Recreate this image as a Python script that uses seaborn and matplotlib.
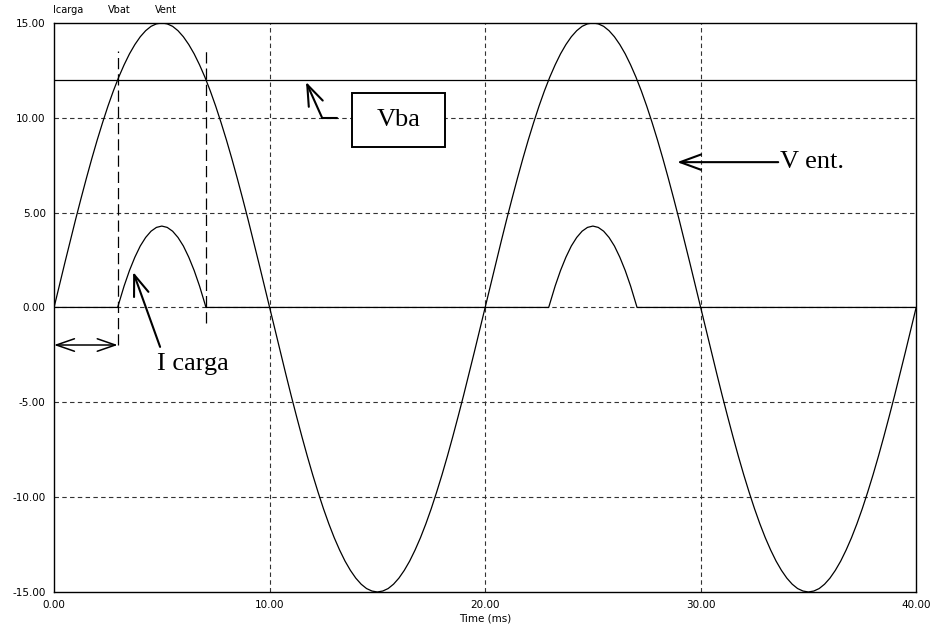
import numpy as np
import pandas as pd
import matplotlib.pyplot as plt
import seaborn as sns
from matplotlib.patches import Rectangle

# input voltage, sampled every 0.25 ms
time_ms = np.linspace(0, 40, 161)
v_ent = [0, 1.18, 2.35, 3.50, 4.64, 5.74, 6.81, 7.84, 8.82, 9.74,
         10.61, 11.41, 12.14, 12.79, 13.37, 13.86, 14.27, 14.59, 14.82, 14.95,
         15.0, 14.95, 14.82, 14.59, 14.27, 13.86, 13.37, 12.79, 12.14, 11.41,
         10.61, 9.74, 8.82, 7.84, 6.81, 5.74, 4.64, 3.50, 2.35, 1.18,
         0, -1.18, -2.35, -3.50, -4.64, -5.74, -6.81, -7.84, -8.82, -9.74,
         -10.61, -11.41, -12.14, -12.79, -13.37, -13.86, -14.27, -14.59, -14.82, -14.95,
         -15.0, -14.95, -14.82, -14.59, -14.27, -13.86, -13.37, -12.79, -12.14, -11.41,
         -10.61, -9.74, -8.82, -7.84, -6.81, -5.74, -4.64, -3.50, -2.35, -1.18,
         0, 1.18, 2.35, 3.50, 4.64, 5.74, 6.81, 7.84, 8.82, 9.74,
         10.61, 11.41, 12.14, 12.79, 13.37, 13.86, 14.27, 14.59, 14.82, 14.95,
         15.0, 14.95, 14.82, 14.59, 14.27, 13.86, 13.37, 12.79, 12.14, 11.41,
         10.61, 9.74, 8.82, 7.84, 6.81, 5.74, 4.64, 3.50, 2.35, 1.18,
         0, -1.18, -2.35, -3.50, -4.64, -5.74, -6.81, -7.84, -8.82, -9.74,
         -10.61, -11.41, -12.14, -12.79, -13.37, -13.86, -14.27, -14.59, -14.82, -14.95,
         -15.0, -14.95, -14.82, -14.59, -14.27, -13.86, -13.37, -12.79, -12.14, -11.41,
         -10.61, -9.74, -8.82, -7.84, -6.81, -5.74, -4.64, -3.50, -2.35, -1.18,
         0]

# load current
i_time = [0, 2.95, 3.0, 3.25, 3.5, 3.75, 4.0, 4.25, 4.5, 4.75, 5.0,
          5.25, 5.5, 5.75, 6.0, 6.25, 6.5, 6.75, 7.0, 7.05,
          22.95, 23.0, 23.25, 23.5, 23.75, 24.0, 24.25, 24.5, 24.75, 25.0,
          25.25, 25.5, 25.75, 26.0, 26.25, 26.5, 26.75, 27.0, 27.05, 40]
i_carga = [0, 0, 0.19, 1.13, 1.95, 2.65, 3.24, 3.69, 4.02, 4.22, 4.29,
           4.22, 4.02, 3.69, 3.24, 2.65, 1.95, 1.13, 0.19, 0,
           0, 0.19, 1.13, 1.95, 2.65, 3.24, 3.69, 4.02, 4.22, 4.29,
           4.22, 4.02, 3.69, 3.24, 2.65, 1.95, 1.13, 0.19, 0, 0]

# battery voltage
vbat_time = [0, 40]
v_bat = [12.0, 12.0]

x_ticks = [0, 10, 20, 30, 40]
y_ticks = [-15, -10, -5, 0, 5, 10, 15]

sns.set_style("white")
plt.rcParams['font.family'] = ['DejaVu Sans']
plt.rcParams['text.color'] = 'black'
plt.rcParams['axes.labelcolor'] = 'black'
plt.rcParams['xtick.color'] = 'black'
plt.rcParams['ytick.color'] = 'black'

fig = plt.figure(figsize=(9.32, 6.33), dpi=100)
ax = fig.add_axes([0.058, 0.0648, 0.925, 0.899])

# dashed grid, not on the frame
for x in x_ticks[1:-1]:
    ax.axvline(x, color='#333333', lw=0.8, ls=(0, (4, 3)), zorder=1)
for y in y_ticks[1:-1]:
    ax.axhline(y, color='#333333', lw=0.8, ls=(0, (4, 3)), zorder=1)

sns.lineplot(x=time_ms, y=v_ent, ax=ax, color='black', lw=0.9, zorder=3)
sns.lineplot(x=i_time, y=i_carga, ax=ax, color='black', lw=0.9, zorder=3)
sns.lineplot(x=vbat_time, y=v_bat, ax=ax, color='black', lw=0.9, zorder=3)

ax.set_xlim(0, 40)
ax.set_ylim(-15, 15)
ax.set_xticks(x_ticks)
ax.set_yticks(y_ticks)
ax.set_xticklabels([f'{v:.2f}' for v in x_ticks])
ax.set_yticklabels([f'{v:.2f}' for v in y_ticks])
ax.tick_params(length=0, labelsize=7.5, pad=6, colors='black')
ax.set_xlabel('Time (ms)', fontsize=7.5, labelpad=2, color='black')
ax.set_ylabel('')
for sp in ax.spines.values():
    sp.set_visible(True)
    sp.set_color('black')
    sp.set_linewidth(1.0)

# conduction limits
ax.plot([2.95, 2.95], [-2.0, 13.5], color='black', lw=0.9, ls=(0, (9, 4)), zorder=2)
ax.plot([7.05, 7.05], [-0.8, 13.5], color='black', lw=0.9, ls=(0, (9, 4)), zorder=2)

arrow = '->,head_length=1.5,head_width=0.55'
serif = ['Liberation Serif', 'DejaVu Serif']

ax.annotate('', xy=(0, -1.98), xytext=(2.95, -1.98),
            arrowprops=dict(arrowstyle='<->,head_length=1.3,head_width=0.45',
                            color='black', lw=1.1, mutation_scale=10,
                            shrinkA=0, shrinkB=0))

ax.annotate('', xy=(3.67, 1.87), xytext=(4.92, -2.08),
            arrowprops=dict(arrowstyle=arrow, color='black', lw=1.5,
                            mutation_scale=10, shrinkA=0, shrinkB=0))
ax.text(4.78, -3.29, 'I carga', fontsize=19, family=serif, va='baseline', ha='left',
        color='black')

# Vba box and bent arrow
ax.add_patch(Rectangle((13.83, 8.46), 4.32, 2.85, facecolor='white',
                       edgecolor='black', lw=1.4, zorder=4))
ax.text(15.99, 9.88, 'Vba', fontsize=19, family=serif, ha='center', va='center',
        color='black', zorder=5)
ax.plot([13.13, 12.44], [9.99, 9.99], color='black', lw=1.5, zorder=4)
ax.annotate('', xy=(11.69, 11.89), xytext=(12.44, 9.99),
            arrowprops=dict(arrowstyle=arrow, color='black', lw=1.5,
                            mutation_scale=10, shrinkA=0, shrinkB=0))

ax.annotate('', xy=(28.91, 7.66), xytext=(33.6, 7.66),
            arrowprops=dict(arrowstyle=arrow, color='black', lw=1.5,
                            mutation_scale=10, shrinkA=0, shrinkB=0))
ax.text(33.69, 7.66, 'V ent.', fontsize=19, family=serif, ha='left', va='center',
        color='black')

# trace names above the plot
for name, px in [('Icarga', 53), ('Vbat', 108), ('Vent', 155)]:
    fig.text(px / 932, 1 - 10 / 633, name, fontsize=7, ha='left', va='center',
             color='black')

fig.savefig('out.png', dpi=100)
